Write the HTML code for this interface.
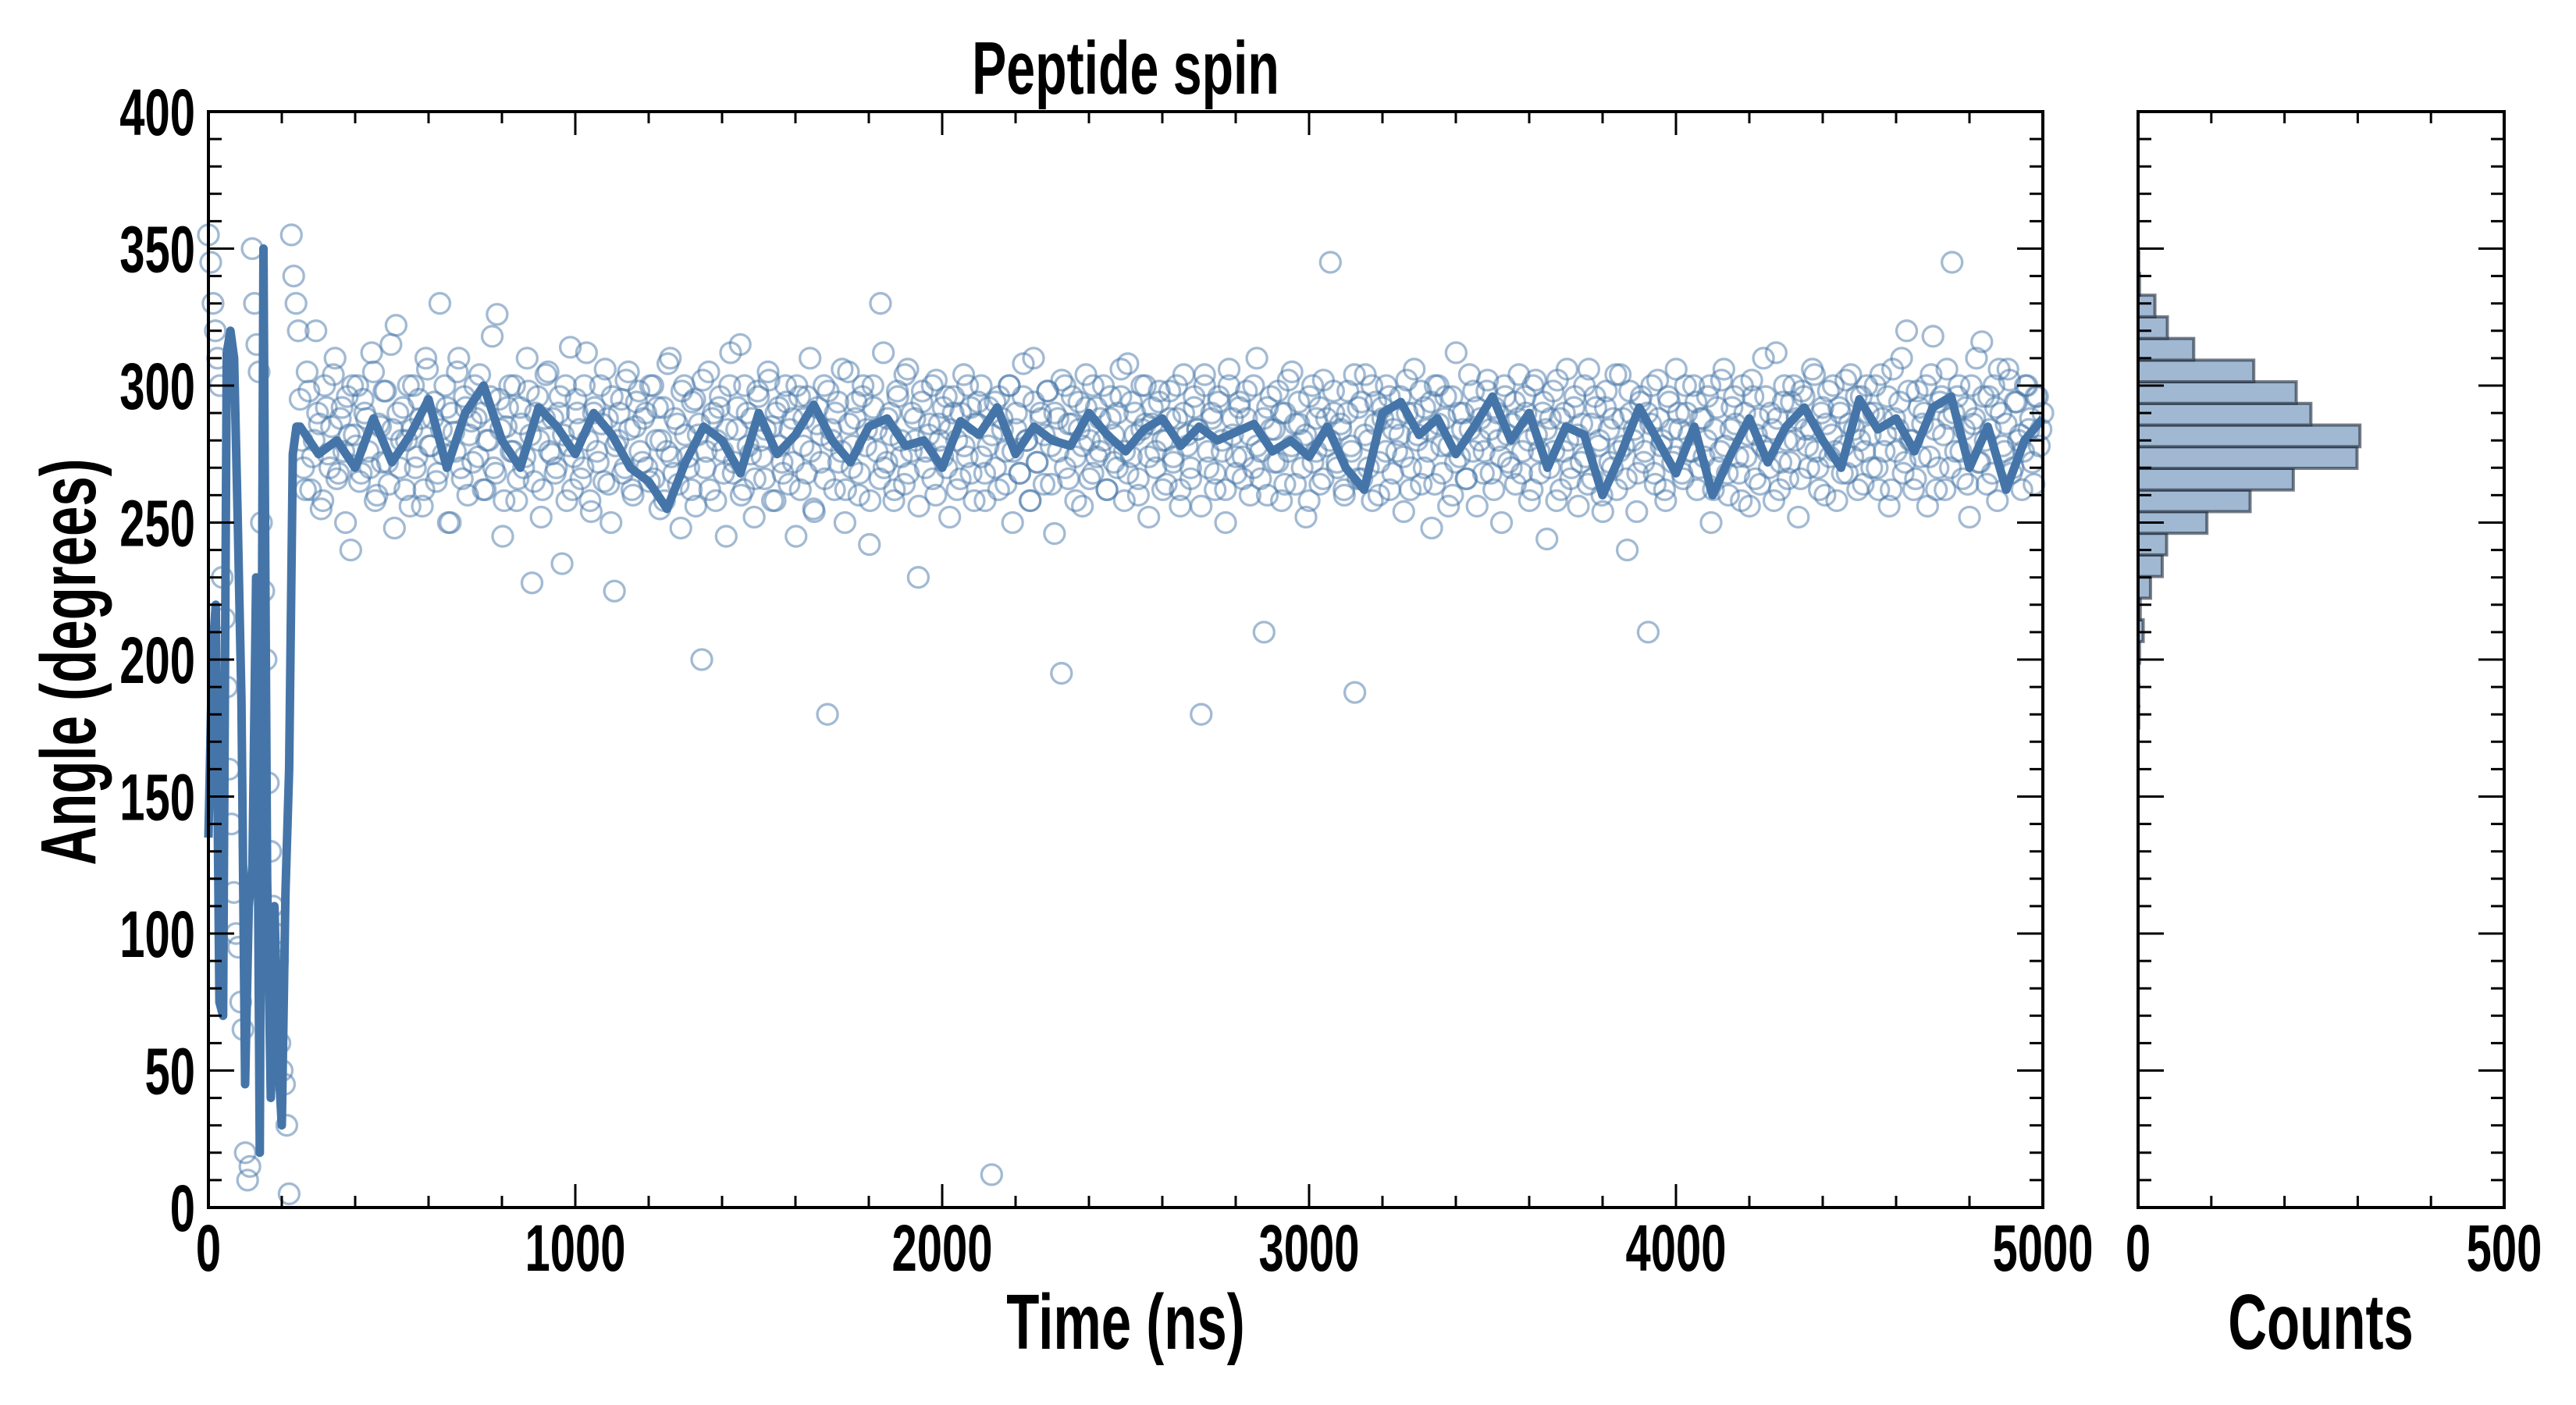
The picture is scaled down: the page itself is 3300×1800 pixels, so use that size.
<!DOCTYPE html>
<html><head><meta charset="utf-8"><title>Peptide spin</title>
<style>
html,body{margin:0;padding:0;background:#fff;}
svg{display:block;}
text{font-family:"Liberation Sans Narrow","Liberation Sans",sans-serif;font-weight:bold;fill:#000;}
</style></head>
<body>
<svg id="chart" width="3300" height="1800" viewBox="0 0 3300 1800" xmlns="http://www.w3.org/2000/svg">
<rect x="0" y="0" width="3300" height="1800" fill="#fff"/>
<g id="main"></g>
<g id="hist"></g>
</svg>
<script>
// ---- data ----
const earlyLine = [135,200,220,75,70,312,320,310,250,185,45,110,125,230,20,350,120,40,110,55,30,115,160,275,285];
const mainLine = [285,275,280,270,288,272,282,295,270,290,300,280,270,292,285,275,290,282,270,265,
255,272,285,280,268,290,275,282,293,280,272,285,288,278,280,270,287,282,292,275,
285,280,278,290,282,276,284,288,278,285,280,283,286,276,280,274,285,270,262,290,
294,282,288,275,285,296,280,290,270,285,282,260,275,292,280,268,285,260,275,288,
272,285,292,280,270,295,284,288,276,292,296,270,285,262,280,288];
const earlyScatter = [355,345,330,320,310,300,230,215,190,160,140,115,100,95,75,65,20,10,15,350,330,315,305,250,225,200,155,130,110,100,90,60,50,45,30,5,355,340,330,320];
const mainScatter = [
295,270,305,262,280,290,255,300,275,285,310,268,292,250,282,300,278,265,295,288,270,305,260,285,298,272,315,248,290,280,262,300,284,270,295,256,310,278,288,265,330,275,292,250,283,305,270,296,260,287,
300,274,290,262,280,318,268,295,245,285,300,276,258,292,270,310,282,265,296,252,288,305,275,268,290,235,300,278,262,295,284,270,312,258,290,276,300,265,288,250,225,280,295,270,305,262,285,298,272,290,
265,300,280,255,292,276,310,268,286,248,300,274,262,295,282,200,270,305,288,258,292,276,245,300,268,284,315,262,290,275,252,298,280,266,305,285,258,292,272,300,264,288,245,296,278,268,310,255,286,272,
300,180,284,262,294,276,250,305,270,288,260,296,278,242,300,284,266,312,272,290,258,298,280,264,306,276,288,230,294,270,282,300,260,286,274,296,252,290,280,266,304,274,292,258,286,300,268,278,12,294,
262,288,276,300,250,284,268,296,280,258,310,272,290,264,298,278,246,288,195,300,266,286,274,294,256,304,280,268,292,276,300,262,288,282,270,296,258,308,274,290,266,284,300,252,286,276,294,262,280,298,
272,288,256,304,278,266,292,284,180,300,270,288,262,296,276,250,306,282,268,294,274,288,260,300,278,266,210,292,284,272,298,258,290,276,305,264,286,280,252,296,272,288,264,302,278,345,290,270,284,260,
298,276,188,292,266,304,280,258,294,272,288,300,262,284,276,296,254,290,270,306,282,264,292,276,248,300,286,268,296,278,260,312,274,290,266,284,298,256,288,276,302,268,292,280,250,296,272,286,264,304,
276,290,258,300,282,268,294,244,288,276,302,262,290,280,270,296,256,286,274,306,266,292,280,254,298,272,288,262,304,278,240,290,284,268,296,276,210,300,264,288,280,258,294,272,306,284,266,290,276,300,
262,288,274,296,250,284,270,302,278,260,292,286,268,300,274,256,296,282,264,310,276,290,258,288,272,300,266,294,280,252,298,284,270,306,276,262,292,286,274,300,258,290,278,268,304,284,262,296,276,290,
270,300,262,288,282,256,306,276,294,268,320,280,262,298,274,290,256,304,284,270,296,262,288,345,276,300,266,292,252,286,310,272,296,264,284,300,258,290,276,306,268,294,280,262,300,284,272,296,278,290
];
const mainScatterB = [
280,262,298,274,320,286,258,292,270,304,266,288,276,296,240,282,300,268,290,276,312,258,286,272,298,264,284,322,270,292,280,256,300,274,288,262,306,278,294,268,284,300,250,290,276,310,266,292,282,272,
288,304,262,280,296,270,326,284,258,292,276,300,266,286,274,298,228,290,280,262,304,276,288,270,296,282,258,314,274,290,266,300,280,254,292,272,286,306,264,296,278,290,268,302,284,260,294,276,288,270,
300,266,292,280,258,308,274,288,264,298,282,270,294,256,286,302,276,262,290,280,296,268,284,312,272,292,260,300,278,288,266,296,274,284,302,258,290,278,268,294,284,272,300,262,288,296,276,254,292,282,
266,298,280,290,272,306,262,286,278,294,268,300,284,258,292,276,330,270,288,282,262,296,274,304,268,290,280,256,298,276,286,266,302,280,292,270,284,296,262,290,278,300,268,286,294,274,258,292,282,270,
296,284,264,300,276,290,268,308,280,258,294,272,288,282,298,264,290,276,302,270,286,296,258,284,278,292,266,300,274,288,280,262,296,272,290,306,276,268,294,282,260,300,286,274,292,270,298,280,264,288,
274,300,262,290,282,270,296,284,256,304,276,290,268,294,280,262,300,288,274,292,266,298,282,270,310,276,288,260,296,284,272,290,264,302,278,286,294,270,282,258,300,276,292,266,288,280,298,272,286,262,
290,278,304,266,294,282,270,300,286,260,292,276,296,268,288,282,274,302,262,290,280,298,270,284,294,264,300,278,288,256,296,272,290,284,266,304,276,292,280,268,298,284,262,290,274,300,282,270,294,288,
268,296,280,262,302,276,290,284,270,298,258,288,276,306,266,292,282,272,300,264,286,296,278,260,292,284,270,304,276,288,266,298,280,254,294,272,290,286,268,302,278,262,296,284,274,290,268,300,282,276,
294,270,288,280,300,262,292,276,306,268,284,296,274,258,290,282,302,266,288,278,296,270,284,312,262,294,280,272,300,288,266,296,278,284,304,270,290,260,298,282,276,292,268,302,286,274,296,280,264,300,
282,290,270,304,276,296,262,288,284,310,272,298,280,266,292,286,300,274,318,262,294,282,306,270,290,296,276,284,264,300,288,272,316,280,296,268,292,306,278,286,302,270,294,282,276,300,288,264,296,284
];
const histCounts = [1,1,1,2,7,3,17,33,39,94,153,212,299,303,236,216,158,76,40,23,2,1];
const histBinStart = 175;
const histBinWidth = 7.9;
const yTickLabels = [0,50,100,150,200,250,300,350,400];
const xTickLabels = [0,1000,2000,3000,4000,5000];
const histXTickLabels = [0,500];

// ---- geometry ----
const NS = "http://www.w3.org/2000/svg";
const M = {l:267, r:2617, t:143, b:1547};
const H = {l:2739, r:3208};
const X = t => M.l + (t/5000)*(M.r-M.l);
const Y = v => M.b - (v/400)*(M.b-M.t);
const HX = c => H.l + (c/500)*(H.r-H.l);
const mainG = document.getElementById('main');
const histG = document.getElementById('hist');
const SX = 0.69;

function mk(tag, attrs, parent){
  const e = document.createElementNS(NS, tag);
  for (const k in attrs) e.setAttribute(k, attrs[k]);
  parent.appendChild(e);
  return e;
}
function txt(s, x, y, size, anchor, parent, rot){
  const e = mk('text', {x:0, y:0, 'font-size':size, 'text-anchor':anchor,
    transform:`translate(${x},${y})${rot?' rotate(-90)':''} scale(${SX},1)`}, parent);
  e.textContent = s;
  return e;
}

// scatter
const sg = mk('g', {fill:'none', stroke:'rgba(70,117,168,0.5)', 'stroke-width':3.3}, mainG);


function addPoint(t, v){
  const c = mk('circle', {cx:X(t), cy:Y(v), r:13}, sg);
  
  
}
earlyScatter.forEach((v,i)=>addPoint(i*(245/(earlyScatter.length-1)), v));
mainScatter.forEach((v,i)=>addPoint(250 + i*(4750/(mainScatter.length-1)), v));
mainScatterB.forEach((v,i)=>addPoint(255 + i*(4740/(mainScatterB.length-1)), v));

// line
const pts = [];
earlyLine.forEach((v,i)=>pts.push([X(i*10), Y(v)]));
mainLine.forEach((v,i)=>pts.push([X(250 + i*(4750/(mainLine.length-1))), Y(v)]));
const ln = mk('polyline', {points:pts.map(p=>p.join(',')).join(' '), fill:'none', stroke:'#4575a8', 'stroke-width':11, 'stroke-linejoin':'round'}, mainG);



// main frame & ticks
const fr = mk('rect', {x:M.l, y:M.t, width:M.r-M.l, height:M.b-M.t, fill:'none', stroke:'#000', 'stroke-width':4}, mainG);


const tk = mk('g', {stroke:'#000', 'stroke-width':3}, mainG);


for (let v=0; v<=400; v+=10){
  const L = v%50===0 ? 33 : 17;
  mk('line', {x1:M.l, x2:M.l+L, y1:Y(v), y2:Y(v)}, tk);
  mk('line', {x1:M.r, x2:M.r-L, y1:Y(v), y2:Y(v)}, tk);
}
for (let t=0; t<=5000; t+=200){
  const L = t%1000===0 ? 30 : 15;
  mk('line', {x1:X(t), x2:X(t), y1:M.b, y2:M.b-L}, tk);
  mk('line', {x1:X(t), x2:X(t), y1:M.t, y2:M.t+L}, tk);
}
yTickLabels.forEach(v=>{
  const e = txt(String(v), 250, Y(v)+30, 84, 'end', mainG);
  
  
});
xTickLabels.forEach(t=>{
  const e = txt(String(t), X(t), 1628, 84, 'middle', mainG);
  
  
});
let e;
e = txt('Peptide spin', 1442, 120, 96, 'middle', mainG);


e = txt('Time (ns)', 1442, 1728, 100, 'middle', mainG);


e = txt('Angle (degrees)', 122, 848, 100, 'middle', mainG, true);



// histogram
histCounts.forEach((c,i)=>{
  const lo = histBinStart + i*histBinWidth, hi = lo + histBinWidth;
  const r = mk('rect', {x:H.l, y:Y(hi), width:HX(c)-H.l, height:Y(lo)-Y(hi), fill:'#a0b8d2', stroke:'rgba(30,40,55,0.6)', 'stroke-width':4}, histG);
  
  
});
const hf = mk('rect', {x:H.l, y:M.t, width:H.r-H.l, height:M.b-M.t, fill:'none', stroke:'#000', 'stroke-width':4}, histG);


const ht = mk('g', {stroke:'#000', 'stroke-width':3}, histG);


for (let v=0; v<=400; v+=10){
  const L = v%50===0 ? 33 : 17;
  mk('line', {x1:H.l, x2:H.l+L, y1:Y(v), y2:Y(v)}, ht);
  mk('line', {x1:H.r, x2:H.r-L, y1:Y(v), y2:Y(v)}, ht);
}
for (let c=0; c<=500; c+=100){
  const L = c%500===0 ? 30 : 15;
  mk('line', {x1:HX(c), x2:HX(c), y1:M.b, y2:M.b-L}, ht);
  mk('line', {x1:HX(c), x2:HX(c), y1:M.t, y2:M.t+L}, ht);
}
histXTickLabels.forEach(c=>{
  const e2 = txt(String(c), HX(c), 1628, 84, 'middle', histG);
  
  
});
e = txt('Counts', 2973, 1728, 100, 'middle', histG);


</script>
</body></html>
